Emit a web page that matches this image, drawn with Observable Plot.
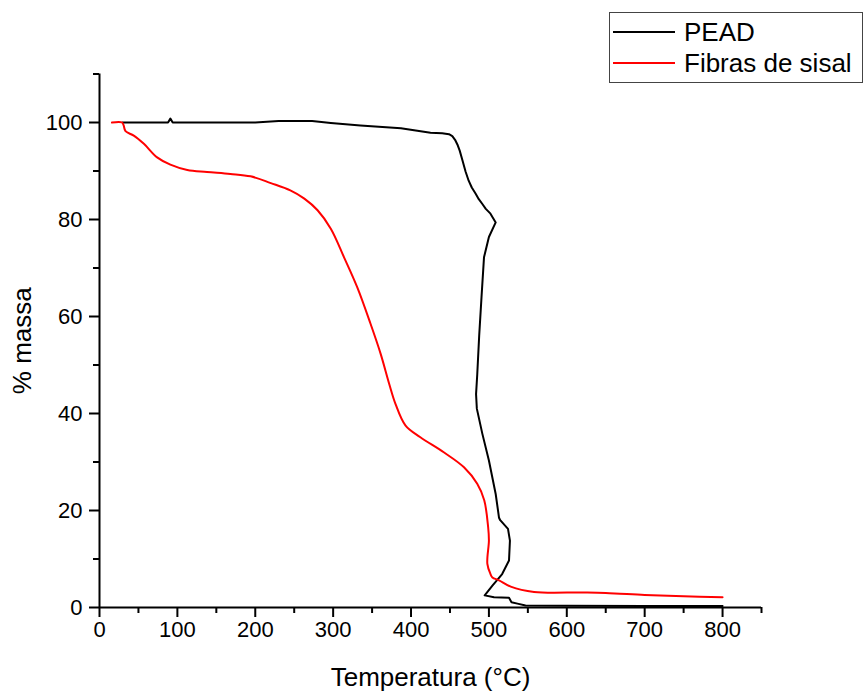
<!DOCTYPE html>
<html>
<head>
<meta charset="utf-8">
<script src="https://cdn.jsdelivr.net/npm/d3@7"></script>
<script src="https://cdn.jsdelivr.net/npm/@observablehq/plot@0.6"></script>
<style>
  html, body { margin: 0; padding: 0; background: white; }
  #wrap { position: relative; width: 864px; height: 692px; font-family: "Liberation Sans", Arial, sans-serif; }
  #legend { position: absolute; left: 609px; top: 12px; width: 254px; height: 71px; border: 1px solid #444; background: white; box-sizing: border-box; }
  .item { position: absolute; left: 0; height: 30px; display: flex; align-items: center; font-size: 26px; color: #000; white-space: nowrap; }
  .swatch { display: inline-block; width: 62px; height: 2px; margin-left: 3px; margin-right: 9px; }
</style>
</head>
<body>
<div id="wrap"></div>
<script>
// PEAD (black) — temperature (°C), % mass
const peadT = [29.5, 60, 88, 91, 94, 130, 200, 230, 273, 297, 335, 387, 425, 440, 448.7, 453, 457, 460, 462.5, 466, 470, 474, 478, 483, 487, 491.6, 496, 502, 508.7, 500, 493.7, 490.5, 487.5, 485, 483.5, 484.5, 491.6, 500, 508.7, 513, 514.5, 524.5, 527, 525.8, 517, 504.5, 494.6, 506.6, 525.8, 529, 536.6, 547, 600, 700, 800];
const peadM = [100, 100, 100, 100.8, 100, 100, 100, 100.3, 100.3, 99.9, 99.4, 98.8, 97.9, 97.8, 97.6, 97.2, 96.3, 95.3, 94.2, 92.2, 89.9, 88, 86.6, 85.3, 84.2, 83.2, 82.2, 81.2, 79.4, 76.4, 72.2, 64, 56, 48, 44, 41, 35.8, 30.3, 23.4, 18.5, 18, 16.2, 13.8, 9.7, 6.9, 4.5, 2.5, 2.1, 2.0, 1.1, 0.8, 0.4, 0.35, 0.3, 0.3];

// Fibras de sisal (red)
const sisalT = [16, 29, 31, 33.4, 44, 57, 74, 91, 112.7, 138, 168, 194, 220, 245, 263, 280, 297, 314, 331, 348, 361, 372, 380, 393, 412, 442, 468, 485, 494, 499, 500, 498, 502, 504.5, 513, 528, 558, 620, 650, 700, 750, 800];
const sisalM = [100, 100, 99.4, 98.2, 97.3, 95.6, 92.8, 91.3, 90.2, 89.8, 89.4, 88.9, 87.5, 86, 84.3, 81.9, 78.1, 72.2, 66, 58.5, 52.3, 46.1, 42, 37.5, 35.1, 32, 28.9, 25.5, 22.1, 16.6, 13.8, 9, 6.9, 6.2, 5.6, 4.3, 3.2, 3.1, 3.0, 2.6, 2.3, 2.1];

const xMajor = [0, 100, 200, 300, 400, 500, 600, 700, 800];
const xMinor = [50, 150, 250, 350, 450, 550, 650, 750, 850];
const yMajor = [0, 20, 40, 60, 80, 100];
const yMinor = [10, 30, 50, 70, 90, 110];

const seriesNames = ["PEAD", "Fibras de sisal"];
const seriesColors = ["#000000", "#ff0000"];

const pead = peadT.map((t, i) => ({t, m: peadM[i]}));
const sisal = sisalT.map((t, i) => ({t, m: sisalM[i]}));

const chart = Plot.plot({
  width: 864,
  height: 692,
  marginLeft: 99,
  marginRight: 103,
  marginTop: 73.5,
  marginBottom: 85,
  style: { fontFamily: "'Liberation Sans', Arial, sans-serif", fontSize: "22px", color: "#000", background: "white" },
  x: { domain: [0, 850] },
  y: { domain: [0, 110] },
  marks: [
    Plot.axisX({ ticks: xMinor, tickSize: 6, tickFormat: () => "", label: null, strokeWidth: 2 }),
    Plot.axisY({ ticks: yMinor, tickSize: 6, tickFormat: () => "", label: null, strokeWidth: 2 }),
    Plot.axisX({ ticks: xMajor, tickSize: 10, tickPadding: 4, tickFormat: d3.format("d"), label: null, strokeWidth: 2, fontSize: 22 }),
    Plot.axisY({ ticks: yMajor, tickSize: 10, tickPadding: 7, tickFormat: d3.format("d"), label: null, strokeWidth: 2, fontSize: 22 }),
    Plot.ruleX([0], { strokeWidth: 2 }),
    Plot.ruleY([0], { strokeWidth: 2 }),
    Plot.line(pead, { x: "t", y: "m", stroke: seriesColors[0], strokeWidth: 2 }),
    Plot.line(sisal, { x: "t", y: "m", stroke: seriesColors[1], strokeWidth: 2, curve: "catmull-rom" }),
    Plot.text(["Temperatura (°C)"], { frameAnchor: "bottom", dy: 70, fontSize: 26, lineAnchor: "middle", textAnchor: "middle" }),
    Plot.text(["% massa"], { frameAnchor: "left", dx: -77, rotate: -90, fontSize: 26, lineAnchor: "middle", textAnchor: "middle" })
  ]
});

const wrap = document.getElementById("wrap");
wrap.appendChild(chart);

const legend = document.createElement("div");
legend.id = "legend";
seriesNames.forEach((name, i) => {
  const item = document.createElement("div");
  item.className = "item";
  item.style.top = (i === 0 ? 4 : 35) + "px";
  const sw = document.createElement("span");
  sw.className = "swatch";
  sw.style.background = seriesColors[i];
  const label = document.createElement("span");
  label.textContent = name;
  item.appendChild(sw);
  item.appendChild(label);
  legend.appendChild(item);
});
wrap.appendChild(legend);
</script>
</body>
</html>
